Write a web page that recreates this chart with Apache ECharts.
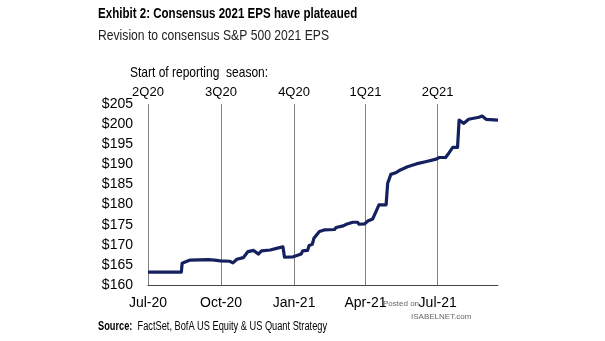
<!DOCTYPE html>
<html><head><meta charset="utf-8">
<script src="https://cdn.jsdelivr.net/npm/echarts@6/dist/echarts.min.js"></script>
<style>html,body{margin:0;padding:0;background:#fff}#c{width:605px;height:341px}</style>
</head><body><div id="c"></div>
<script>
// ---- data ----
const dates = ['2020-07-01','2020-08-12','2020-08-13','2020-08-23','2020-09-15','2020-09-17','2020-09-23','2020-09-30',
  '2020-10-12','2020-10-16','2020-10-21','2020-10-29','2020-11-04','2020-11-11','2020-11-17','2020-11-21','2020-12-02',
  '2020-12-10','2020-12-18','2020-12-19','2020-12-20','2020-12-31','2021-01-10','2021-01-12','2021-01-18','2021-01-20',
  '2021-01-24','2021-01-26','2021-02-02','2021-02-08','2021-02-21','2021-02-23','2021-03-04','2021-03-08','2021-03-16',
  '2021-03-22','2021-03-24','2021-03-31','2021-04-04','2021-04-10','2021-04-14','2021-04-18','2021-04-27','2021-04-29',
  '2021-05-03','2021-05-09','2021-05-15','2021-05-24','2021-06-04','2021-06-17','2021-06-29','2021-07-03','2021-07-11',
  '2021-07-15','2021-07-20','2021-07-26','2021-07-28','2021-07-30','2021-08-03','2021-08-09','2021-08-22','2021-08-26',
  '2021-08-31','2021-09-15'];
const eps = [163.2,163.2,165.4,166.2,166.3,166.6,166.2,166.0,
  165.9,165.5,166.4,166.8,168.3,168.6,167.7,168.5,168.7,
  169.1,169.5,169.5,166.9,167.0,167.7,168.5,168.6,169.8,
  170.1,171.6,173.3,173.7,173.8,174.3,174.7,175.1,175.6,
  175.6,175.1,175.2,175.9,176.4,178.1,179.9,179.9,185.3,
  187.5,187.9,188.6,189.4,190.1,190.7,191.3,191.7,191.7,
  192.8,194.2,194.2,201.0,201.2,200.2,201.2,201.7,202.0,
  201.2,201.0];
const quarterTicks = ['2020-07-01','2020-10-01','2021-01-01','2021-04-01','2021-07-01'];
const quarterLabels = ['Jul-20','Oct-20','Jan-21','Apr-21','Jul-21'];
const seasonLabels = ['2Q20','3Q20','4Q20','1Q21','2Q21'];
const xStart = '2020-07-01', xEnd = '2021-09-15';
const yMin = 160, yMax = 205, yStep = 5;

const ts = s => new Date(s + 'T00:00:00Z').getTime();
const qTs = quarterTicks.map(ts);
const lineColor = '#14215e';
const sans = '"Liberation Sans", Arial, sans-serif';

const chart = echarts.init(document.getElementById('c'), null, {renderer: 'canvas'});
chart.setOption({
  animation: false,
  backgroundColor: '#fff',
  grid: {left: 148, right: 107, top: 104, bottom: 56, containLabel: false},
  xAxis: {
    type: 'value', min: ts(xStart), max: ts(xEnd), scale: true,
    axisLine: {show: true, onZero: false, lineStyle: {color: '#444', width: 1}},
    axisTick: {show: false},
    splitLine: {show: false},
    axisLabel: {
      customValues: qTs,
      formatter: v => { const i = qTs.indexOf(v); return i >= 0 ? quarterLabels[i] : ''; },
      color: '#000', fontFamily: sans, fontSize: 14, margin: 11
    }
  },
  yAxis: {
    type: 'value', min: yMin, max: yMax, interval: yStep,
    axisLine: {show: false}, axisTick: {show: false}, splitLine: {show: false},
    axisLabel: {formatter: v => '$' + v, color: '#000', fontFamily: sans, fontSize: 14, margin: 15}
  },
  series: [{
    type: 'line', showSymbol: false, symbol: 'none',
    data: dates.map((d, i) => [ts(d), eps[i]]),
    lineStyle: {color: lineColor, width: 3.2, join: 'round'},
    z: 5,
    markLine: {
      silent: true, symbol: 'none', animation: false,
      lineStyle: {color: '#808080', width: 1, type: 'solid'},
      label: {show: true, position: 'end', color: '#000', fontFamily: sans, fontSize: 13, distance: 5,
        formatter: p => seasonLabels[p.dataIndex]},
      data: qTs.map(t => ({xAxis: t}))
    }
  }],
  graphic: [
    {type: 'text', x: 98, y: 6, scaleX: 0.77, style: {text: 'Exhibit 2: Consensus 2021 EPS have plateaued', font: 'bold 15px "Liberation Sans", Arial, sans-serif', fill: '#000'}},
    {type: 'text', x: 98, y: 28, scaleX: 0.81, style: {text: 'Revision to consensus S&P 500 2021 EPS', font: '15px "Liberation Sans", Arial, sans-serif', fill: '#222'}},
    {type: 'text', x: 130, y: 65, scaleX: 0.8, style: {text: 'Start of reporting  season:', font: '15px "Liberation Sans", Arial, sans-serif', fill: '#000'}},
    {type: 'text', x: 98, y: 321, scaleX: 0.77, style: {rich: {b: {fontWeight: 'bold', fontFamily: sans, fontSize: 12, fill: '#000'}, n: {fontFamily: sans, fontSize: 12, fill: '#000'}},
      text: '{b|Source:}{n|  FactSet, BofA US Equity & US Quant Strategy}'}},
    {type: 'text', x: 383, y: 300, style: {text: 'Posted on', font: '8px "Liberation Sans", Arial, sans-serif', fill: '#666'}},
    {type: 'text', x: 411, y: 313, style: {text: 'ISABELNET.com', font: '8px "Liberation Sans", Arial, sans-serif', fill: '#666'}}
  ]
});
</script>
</body></html>
